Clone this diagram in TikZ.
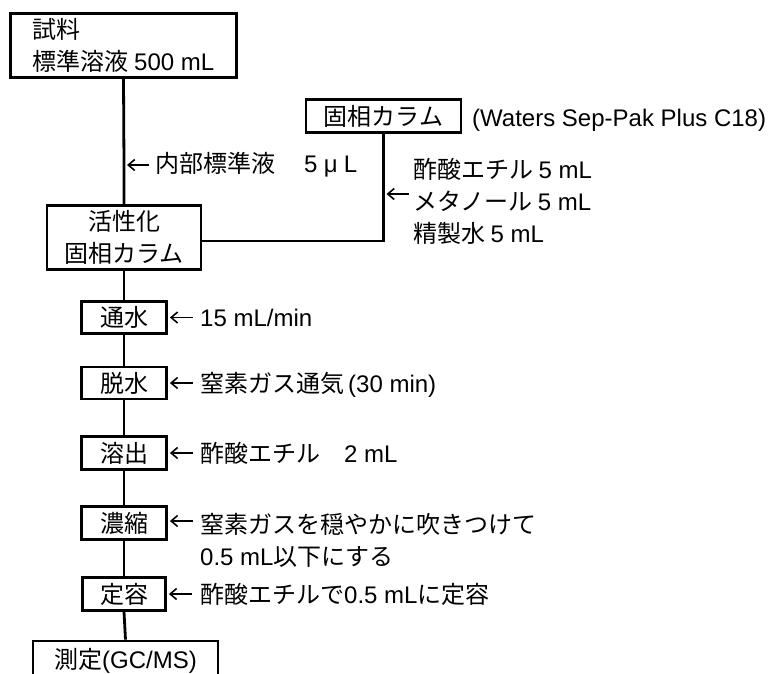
\documentclass[tikz,border=0pt]{standalone}
\usepackage{fontspec}
\setmainfont{Noto Sans CJK JP}
\newfontfamily\lat{Liberation Sans}
\usetikzlibrary{arrows.meta}
\begin{document}
\begin{tikzpicture}[x=1pt,y=-1pt,
  box/.style={draw, line width=2.8pt, inner sep=0pt, align=center},
  conn/.style={line width=2.8pt},
  arr/.style={line width=1.6pt, -{Straight Barb[length=6.5pt,width=11pt]}},
  lab/.style={anchor=west, inner sep=0pt, align=left},
  font=\fontsize{24}{32}\selectfont]
\clip (0,0) rectangle (779,673);
\useasboundingbox (0,0) rectangle (779,673);

% main column boxes
\node[box, align=left, minimum width=226pt, minimum height=64pt] (src) at (123.5,45.5) {試料\\標準溶液 {\lat 500 mL}};
\node[box, minimum width=154pt, minimum height=64pt] (act) at (124,237.5) {活性化\\固相カラム};
\node[box, minimum width=155pt, minimum height=33pt] (col) at (383.5,116) {固相カラム};
\node[box, minimum width=85pt, minimum height=32pt] (b1) at (124,317.5) {通水};
\node[box, minimum width=85pt, minimum height=32pt] (b2) at (124,383) {脱水};
\node[box, minimum width=85pt, minimum height=33pt] (b3) at (124,453) {溶出};
\node[box, minimum width=85pt, minimum height=33pt] (b4) at (124,523) {濃縮};
\node[box, minimum width=83pt, minimum height=33pt] (b5) at (124,594) {定容};
\node[box, minimum width=185pt, minimum height=40pt] (b6) at (125.5,661) {測定{\lat (GC/MS)}};

% connectors
\coordinate (j1) at (124,165);
\coordinate (k1) at (383.5,241);
\draw[conn] (src.south) -- (j1) -- (act.north);
\draw[conn] (col.south) -- (k1) -- (act.east |- k1);
\draw[conn] (act.south) -- (b1.north);
\draw[conn] (b1.south) -- (b2.north);
\draw[conn] (b2.south) -- (b3.north);
\draw[conn] (b3.south) -- (b4.north);
\draw[conn] (b4.south) -- (b5.north);
\draw[conn] (b5.south) -- (b6.north);

% side labels
\node[lab] (lj) at (155,165) {内部標準液\hspace{1.2em}{\lat 5 μ\hspace{0.25em}L}};
\node[lab] (lc) at (472,120) {\lat (Waters Sep-Pak Plus C18)};
\coordinate (kc) at (383.5,194);
\node[lab] (lk) at (413,201) {酢酸エチル {\lat 5 mL}\\メタノール {\lat 5 mL}\\精製水 {\lat 5 mL}};
\node[lab] (l1) at (200,318) {\lat 15 mL/min};
\node[lab] (l2) at (200,385) {窒素ガス通気{\lat\,(30 min)}};
\node[lab] (l3) at (200,453) {酢酸エチル\hspace{1em}{\lat 2 mL}};
\node[lab] (l4) at (200,540) {窒素ガスを穏やかに吹きつけて\\{\lat 0.5 mL}以下にする};
\node[lab] (l5) at (200,594) {酢酸エチルで{\lat 0.5 mL}に定容};

% arrows
\draw[arr] ([xshift=25pt]j1) -- ([xshift=3pt]j1);
\draw[arr] ([xshift=25pt]kc) -- ([xshift=3pt]kc);
\draw[arr] ([xshift=25pt]b1.east) -- ([xshift=2pt]b1.east);
\draw[arr] ([xshift=25pt]b2.east) -- ([xshift=2pt]b2.east);
\draw[arr] ([xshift=25pt]b3.east) -- ([xshift=2pt]b3.east);
\draw[arr] ([xshift=25pt,yshift=2pt]b4.east) -- ([xshift=2pt,yshift=2pt]b4.east);
\draw[arr] ([xshift=25pt]b5.east) -- ([xshift=2pt]b5.east);
\end{tikzpicture}
\end{document}
